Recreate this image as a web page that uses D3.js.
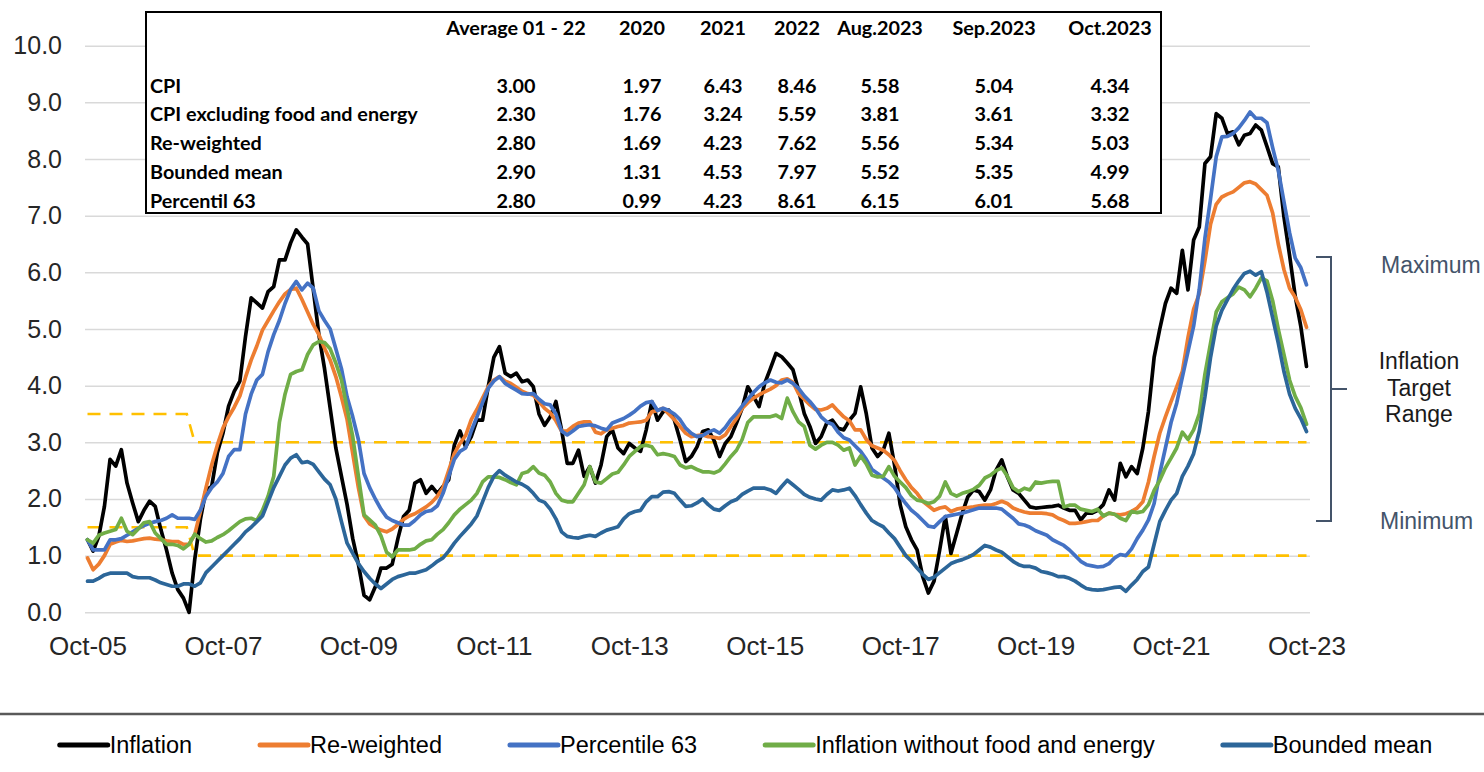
<!DOCTYPE html>
<html>
<head>
<meta charset="utf-8">
<script src="https://cdn.jsdelivr.net/npm/d3@7"></script>
<style>
  body { margin: 0; background: #fff; }
  svg { display: block; }
</style>
</head>
<body>
<div id="chart"></div>
<script>
// ---- DATA (monthly, Oct-05 .. Oct-23) ----
var inflation = [
  1.28,1.08,1.34,1.87,2.70,2.58,2.87,2.28,1.93,1.60,1.80,1.96,
  1.87,1.46,1.10,0.69,0.40,0.25,0.00,0.93,1.64,2.16,2.22,2.81,
  3.16,3.64,3.90,4.08,4.87,5.55,5.46,5.37,5.66,5.75,6.22,6.22,
  6.52,6.75,6.62,6.50,5.70,4.90,4.30,3.60,2.90,2.40,1.90,1.30,
  0.85,0.30,0.22,0.45,0.78,0.78,0.85,1.30,1.69,1.80,2.28,2.34,
  2.10,2.22,2.10,2.22,2.34,2.95,3.20,2.92,3.10,3.39,3.39,3.98,
  4.50,4.69,4.22,4.16,4.22,4.07,4.10,3.98,3.50,3.30,3.45,3.72,
  3.22,2.63,2.63,2.86,2.40,2.57,2.28,2.60,3.10,3.22,2.90,2.80,
  2.98,2.90,2.84,3.22,3.72,3.39,3.54,3.57,3.39,3.04,2.66,2.75,
  2.92,3.19,3.22,3.04,2.75,2.98,3.10,3.34,3.60,3.98,3.81,3.63,
  4.04,4.30,4.57,4.51,4.40,4.28,3.92,3.51,3.28,2.98,3.10,3.34,
  3.39,3.25,3.22,3.39,3.51,3.98,3.50,2.90,2.75,2.86,3.16,2.60,
  1.90,1.51,1.28,1.10,0.63,0.34,0.55,1.10,1.69,1.04,1.39,1.75,
  2.04,2.16,2.13,1.98,2.16,2.51,2.69,2.39,2.16,2.10,1.98,1.86,
  1.84,1.85,1.86,1.87,1.89,1.84,1.80,1.80,1.63,1.75,1.75,1.80,
  1.90,2.16,1.98,2.63,2.39,2.57,2.45,2.90,3.55,4.50,5.00,5.45,
  5.72,5.63,6.39,5.69,6.57,6.80,7.92,8.04,8.80,8.72,8.45,8.48,
  8.25,8.42,8.45,8.60,8.51,8.22,7.92,7.86,6.98,6.30,5.58,5.04,
  4.34
];
var reweighted = [
  0.96,0.75,0.85,1.00,1.20,1.24,1.27,1.25,1.26,1.28,1.30,1.31,
  1.29,1.28,1.26,1.25,1.25,1.20,1.20,1.37,1.78,2.20,2.60,2.95,
  3.25,3.45,3.62,3.82,4.15,4.45,4.70,4.98,5.15,5.32,5.48,5.62,
  5.70,5.72,5.52,5.30,5.08,4.90,4.66,4.45,4.16,3.80,3.40,2.80,
  2.20,1.70,1.56,1.50,1.45,1.42,1.47,1.55,1.64,1.70,1.74,1.80,
  1.86,1.94,2.05,2.20,2.50,2.80,2.98,3.12,3.40,3.58,3.78,3.98,
  4.10,4.16,4.08,4.04,3.97,3.90,3.86,3.83,3.72,3.60,3.52,3.38,
  3.20,3.20,3.28,3.34,3.36,3.36,3.18,3.15,3.22,3.25,3.28,3.30,
  3.34,3.35,3.36,3.39,3.54,3.56,3.60,3.50,3.40,3.28,3.16,3.10,
  3.12,3.13,3.10,3.09,3.07,3.13,3.28,3.42,3.60,3.70,3.78,3.84,
  3.89,3.94,4.00,4.10,4.12,4.06,3.86,3.76,3.66,3.58,3.57,3.60,
  3.66,3.55,3.45,3.38,3.22,3.22,3.05,2.94,2.90,2.86,2.78,2.68,
  2.50,2.34,2.20,2.10,1.96,1.88,1.80,1.84,1.86,1.78,1.82,1.84,
  1.85,1.86,1.88,1.89,1.89,1.92,1.96,1.92,1.84,1.80,1.77,1.75,
  1.75,1.75,1.74,1.72,1.66,1.62,1.57,1.57,1.58,1.60,1.62,1.62,
  1.70,1.75,1.73,1.72,1.74,1.78,1.84,1.95,2.30,2.75,3.16,3.45,
  3.72,3.98,4.25,4.85,5.35,5.62,6.20,6.85,7.20,7.33,7.38,7.42,
  7.50,7.58,7.60,7.56,7.46,7.36,7.05,6.50,6.05,5.72,5.56,5.34,
  5.03
];
var percentile63 = [
  1.28,1.10,1.10,1.10,1.28,1.28,1.30,1.36,1.42,1.48,1.53,1.57,
  1.60,1.62,1.66,1.72,1.66,1.66,1.66,1.64,1.80,2.05,2.20,2.30,
  2.45,2.75,2.87,2.87,3.50,3.85,4.10,4.20,4.60,4.90,5.15,5.45,
  5.70,5.84,5.69,5.81,5.72,5.32,5.15,5.00,4.65,4.30,3.80,3.45,
  3.05,2.45,2.20,2.00,1.82,1.68,1.62,1.58,1.54,1.54,1.62,1.72,
  1.78,1.80,1.88,2.10,2.40,2.70,2.84,2.90,3.20,3.45,3.70,3.95,
  4.08,4.16,4.04,3.98,3.92,3.86,3.85,3.86,3.76,3.68,3.66,3.50,
  3.20,3.13,3.20,3.28,3.30,3.31,3.29,3.25,3.22,3.34,3.38,3.42,
  3.48,3.55,3.64,3.70,3.72,3.56,3.60,3.56,3.50,3.40,3.25,3.16,
  3.10,3.12,3.18,3.22,3.16,3.26,3.40,3.51,3.64,3.76,3.88,3.98,
  4.05,4.10,4.06,4.05,4.10,4.04,3.95,3.82,3.72,3.60,3.45,3.36,
  3.32,3.18,3.08,3.04,2.94,2.84,2.70,2.52,2.45,2.37,2.30,2.20,
  2.05,1.92,1.80,1.72,1.62,1.52,1.50,1.60,1.69,1.71,1.73,1.75,
  1.78,1.81,1.84,1.84,1.84,1.84,1.82,1.74,1.66,1.56,1.54,1.50,
  1.44,1.40,1.36,1.28,1.23,1.18,1.10,1.00,0.90,0.84,0.82,0.80,
  0.81,0.86,0.96,1.02,1.00,1.12,1.30,1.45,1.63,1.92,2.45,2.90,
  3.35,3.69,4.15,4.60,5.05,5.70,6.60,7.30,8.04,8.39,8.40,8.45,
  8.55,8.68,8.83,8.72,8.72,8.64,8.20,7.80,7.25,6.70,6.25,6.08,
  5.78
];
var coreInflation = [
  1.28,1.22,1.36,1.40,1.43,1.46,1.66,1.43,1.37,1.47,1.58,1.60,
  1.40,1.30,1.20,1.20,1.18,1.12,1.20,1.38,1.30,1.24,1.26,1.32,
  1.37,1.44,1.52,1.60,1.65,1.66,1.62,1.80,2.05,2.40,3.35,3.85,
  4.20,4.25,4.28,4.55,4.72,4.78,4.76,4.65,4.40,4.10,3.60,3.10,
  2.40,1.72,1.63,1.54,1.35,1.06,0.98,1.10,1.10,1.10,1.12,1.20,
  1.26,1.28,1.38,1.46,1.58,1.72,1.82,1.90,1.98,2.10,2.30,2.39,
  2.39,2.38,2.34,2.29,2.25,2.45,2.48,2.57,2.46,2.42,2.30,2.10,
  1.98,1.95,1.95,2.10,2.25,2.57,2.30,2.28,2.36,2.44,2.47,2.60,
  2.75,2.84,2.93,2.95,2.92,2.78,2.80,2.78,2.75,2.60,2.55,2.57,
  2.52,2.48,2.48,2.46,2.50,2.62,2.75,2.86,3.05,3.35,3.45,3.45,
  3.45,3.45,3.48,3.42,3.78,3.54,3.36,3.28,2.95,2.88,2.95,3.00,
  3.00,2.95,2.86,2.90,2.60,2.76,2.62,2.42,2.39,2.40,2.57,2.40,
  2.30,2.20,2.06,1.98,1.96,1.92,1.95,2.05,2.30,2.10,2.05,2.10,
  2.13,2.17,2.24,2.37,2.42,2.50,2.55,2.40,2.20,2.13,2.19,2.16,
  2.30,2.28,2.30,2.31,2.31,1.86,1.89,1.89,1.82,1.80,1.78,1.82,
  1.70,1.75,1.73,1.66,1.62,1.78,1.76,1.78,1.90,2.15,2.33,2.55,
  2.72,2.90,3.18,3.05,3.22,3.50,4.20,4.75,5.30,5.48,5.55,5.62,
  5.74,5.69,5.57,5.72,5.90,5.85,5.50,5.00,4.55,4.10,3.81,3.61,
  3.32
];
var boundedMean = [
  0.55,0.55,0.60,0.66,0.69,0.69,0.69,0.69,0.63,0.61,0.61,0.61,
  0.57,0.52,0.49,0.46,0.46,0.50,0.50,0.46,0.52,0.70,0.80,0.90,
  1.00,1.10,1.20,1.30,1.42,1.50,1.60,1.70,1.95,2.20,2.40,2.60,
  2.72,2.78,2.64,2.66,2.61,2.48,2.35,2.25,2.00,1.60,1.22,1.04,
  0.86,0.72,0.60,0.50,0.42,0.50,0.58,0.63,0.66,0.69,0.69,0.72,
  0.75,0.82,0.90,0.96,1.08,1.22,1.34,1.45,1.56,1.70,1.95,2.20,
  2.40,2.50,2.42,2.36,2.30,2.26,2.20,2.10,1.98,1.94,1.82,1.65,
  1.42,1.34,1.32,1.31,1.34,1.36,1.34,1.40,1.45,1.48,1.51,1.65,
  1.74,1.78,1.80,1.95,2.04,2.04,2.12,2.13,2.10,1.98,1.87,1.88,
  1.93,2.00,1.90,1.82,1.80,1.88,1.95,1.99,2.08,2.14,2.19,2.19,
  2.19,2.16,2.10,2.22,2.33,2.25,2.17,2.08,2.03,2.00,1.98,2.08,
  2.16,2.14,2.16,2.19,2.06,1.90,1.75,1.62,1.56,1.51,1.40,1.30,
  1.15,1.00,0.90,0.78,0.67,0.58,0.62,0.70,0.78,0.86,0.90,0.93,
  0.97,1.02,1.10,1.18,1.15,1.10,1.06,0.98,0.90,0.84,0.81,0.81,
  0.78,0.72,0.70,0.67,0.63,0.63,0.60,0.55,0.48,0.42,0.40,0.39,
  0.40,0.42,0.44,0.45,0.37,0.48,0.58,0.72,0.80,1.20,1.60,1.80,
  1.98,2.10,2.40,2.58,2.80,3.20,3.80,4.50,5.05,5.33,5.52,5.70,
  5.85,5.98,6.02,5.95,6.01,5.65,5.20,4.75,4.25,3.85,3.60,3.42,
  3.19
];

// target range (months since Oct-05, value)
var targetMonths = [0, 17.6, 19, 216];
var targetUpper = [3.5, 3.5, 3.0, 3.0];
var targetLower = [1.5, 1.5, 1.0, 1.0];

var yTicks = [0,1,2,3,4,5,6,7,8,9,10];
var xTickMonths = [0,24,48,72,96,120,144,168,192,216];
var xTickLabels = ["Oct-05","Oct-07","Oct-09","Oct-11","Oct-13","Oct-15","Oct-17","Oct-19","Oct-21","Oct-23"];

var seriesNames = ["Inflation","Re-weighted","Percentile 63","Inflation without food and energy","Bounded mean"];
var seriesColors = ["#000000","#ED7D31","#4472C4","#70AD47","#2C6699"];
var seriesData = [inflation, reweighted, percentile63, coreInflation, boundedMean];

var tableHeaders = ["Average 01 - 22","2020","2021","2022","Aug.2023","Sep.2023","Oct.2023"];
var tableRowNames = ["CPI","CPI excluding food and energy","Re-weighted","Bounded mean","Percentil 63"];
var tableValues = [
  ["3.00","1.97","6.43","8.46","5.58","5.04","4.34"],
  ["2.30","1.76","3.24","5.59","3.81","3.61","3.32"],
  ["2.80","1.69","4.23","7.62","5.56","5.34","5.03"],
  ["2.90","1.31","4.53","7.97","5.52","5.35","4.99"],
  ["2.80","0.99","4.23","8.61","6.15","6.01","5.68"]
];

var rangeMax = 6.27, rangeMin = 1.61;

// ---- CHART ----
var W = 1484, H = 772;
var svg = d3.select('#chart').append('svg')
  .attr('width', W)
  .attr('height', H)
  .style('font-family', '"Liberation Sans", Arial, sans-serif');

svg.append('rect').attr('width', W).attr('height', H).attr('fill', '#fff');

var x = d3.scaleLinear().domain([0, 216]).range([87.5, 1306.5]);
var y = d3.scaleLinear().domain([0, 10]).range([612.3, 45.7]);

// y axis + gridlines
var yAxis = svg.append('g')
  .attr('transform', 'translate(85,0)')
  .call(d3.axisLeft(y).tickValues(yTicks).tickFormat(d3.format('.1f'))
    .tickSize(-(1310 - 85)).tickPadding(23));
yAxis.select('.domain').remove();
yAxis.selectAll('line').attr('stroke', '#d9d9d9').attr('stroke-width', 1.5);
yAxis.selectAll('text').attr('font-size', 25).attr('fill', '#262626')
  .attr('font-family', '"Liberation Sans", Arial, sans-serif');

// x axis labels
var xAxis = svg.append('g')
  .attr('transform', 'translate(0,' + y(0) + ')')
  .call(d3.axisBottom(x).tickValues(xTickMonths)
    .tickFormat(function(d, i) { return xTickLabels[i]; })
    .tickSize(0).tickPadding(24));
xAxis.select('.domain').remove();
xAxis.selectAll('text').attr('font-size', 26).attr('fill', '#262626')
  .attr('font-family', '"Liberation Sans", Arial, sans-serif');

// target range dashed lines
var targetLine = d3.line()
  .x(function(d, i) { return x(targetMonths[i]); })
  .y(function(d) { return y(d); });
[targetUpper, targetLower].forEach(function(arr) {
  svg.append('path')
    .attr('d', targetLine(arr))
    .attr('fill', 'none')
    .attr('stroke', '#FFC000')
    .attr('stroke-width', 2.6)
    .attr('stroke-dasharray', '13,9');
});

// series lines
var line = d3.line()
  .x(function(d, i) { return x(i); })
  .y(function(d) { return y(d); });

seriesData.forEach(function(arr, k) {
  svg.append('path')
    .attr('d', line(arr))
    .attr('fill', 'none')
    .attr('stroke', seriesColors[k])
    .attr('stroke-width', 3.7)
    .attr('stroke-linejoin', 'round')
    .attr('stroke-linecap', 'round');
});

// ---- TABLE ----
var tbl = svg.append('g').style('font-family', 'Lato, "Open Sans", sans-serif')
  .attr('font-weight', 'bold').attr('font-size', 19.8);
tbl.append('rect')
  .attr('x', 146).attr('y', 12).attr('width', 1015).attr('height', 201)
  .attr('fill', '#fff').attr('stroke', '#000').attr('stroke-width', 2);

var colCenters = [516, 642, 723, 797, 880, 994, 1110];
var rowY = [86, 114, 143, 172, 201];

tbl.selectAll('.hdr').data(tableHeaders).enter().append('text')
  .attr('x', function(d, i) { return colCenters[i]; })
  .attr('y', 28)
  .attr('dy', '0.35em')
  .attr('text-anchor', 'middle')
  .text(function(d) { return d; });

tbl.selectAll('.rname').data(tableRowNames).enter().append('text')
  .attr('x', 150)
  .attr('y', function(d, i) { return rowY[i]; })
  .attr('dy', '0.35em')
  .text(function(d) { return d; });

tableValues.forEach(function(row, r) {
  tbl.selectAll('.v' + r).data(row).enter().append('text')
    .attr('x', function(d, i) { return colCenters[i]; })
    .attr('y', rowY[r])
    .attr('dy', '0.35em')
    .attr('text-anchor', 'middle')
    .text(function(d) { return d; });
});

// ---- RANGE ANNOTATION ----
var bc = '#44546A';
var yTop = y(rangeMax), yBot = y(rangeMin), yMid = (yTop + yBot) / 2;
svg.append('path')
  .attr('d', 'M1316,' + yTop + 'H1331V' + yBot + 'H1316M1331,' + yMid + 'H1347')
  .attr('fill', 'none').attr('stroke', bc).attr('stroke-width', 2);

svg.append('text').attr('x', 1381).attr('y', yTop + 16).attr('font-size', 23)
  .attr('fill', bc).text('Maximum');
svg.append('text').attr('x', 1380).attr('y', yBot + 8).attr('font-size', 23)
  .attr('fill', bc).text('Minimum');
var rangeLabel = svg.append('text').attr('font-size', 23).attr('fill', '#1a1a1a')
  .attr('text-anchor', 'middle');
['Inflation', 'Target', 'Range'].forEach(function(t, i) {
  rangeLabel.append('tspan').attr('x', 1419).attr('y', 369 + i * 26.5).text(t);
});

// ---- LEGEND ----
svg.append('line').attr('x1', 0).attr('x2', W).attr('y1', 714).attr('y2', 714)
  .attr('stroke', '#595959').attr('stroke-width', 2.5);

var legend = svg.append('g');
var lx = 0;
seriesNames.forEach(function(name, k) {
  var g = legend.append('g').attr('transform', 'translate(' + lx + ',0)');
  g.append('line').attr('x1', 2).attr('x2', 50).attr('y1', 745).attr('y2', 745)
    .attr('stroke', seriesColors[k]).attr('stroke-width', 5).attr('stroke-linecap', 'round');
  var t = g.append('text').attr('x', 52).attr('y', 745).attr('dy', '0.35em')
    .attr('font-size', 23.5).attr('fill', '#000').text(name);
  lx += 52 + t.node().getComputedTextLength() + 66;
});
lx -= 66;
legend.attr('transform', 'translate(' + (745 - lx / 2) + ',0)');
</script>
</body>
</html>
